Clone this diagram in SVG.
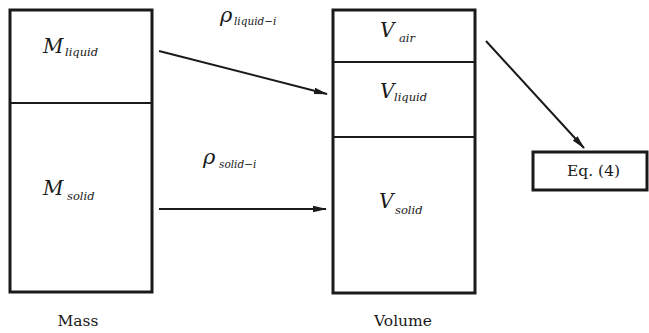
<svg xmlns="http://www.w3.org/2000/svg" width="649" height="333" viewBox="0 0 649 333">
<style>
.box{fill:none;stroke:#1a1a1a;stroke-width:3}
.div{stroke:#1a1a1a;stroke-width:2}
.conn{stroke:#1a1a1a;stroke-width:2;fill:none}
text{font-family:'DejaVu Serif',serif;fill:#1a1a1a}
.it{font-style:italic}
.big{font-size:20px}
.rho{font-size:21px}
.sub{font-size:11.5px}
.rs{font-size:10.5px}
.lbl{font-size:15.5px}
</style>
<defs>
<marker id="ah" markerWidth="14" markerHeight="8" refX="13" refY="4" orient="auto" markerUnits="userSpaceOnUse">
<path d="M0,0.8 L14,4 L0,7.2 Z" fill="#1a1a1a"/>
</marker>
</defs>
<rect width="649" height="333" fill="#fff"/>
<g id="mass">
<rect class="box" x="10" y="10" width="142" height="282"/>
<line class="div" x1="10" y1="103" x2="152" y2="103"/>
<text class="it big" x="43" y="53">M</text>
<text class="it sub" x="65" y="56">liquid</text>
<text class="it big" x="43" y="195">M</text>
<text class="it sub" x="67" y="200">solid</text>
<text class="lbl" x="78" y="326" text-anchor="middle">Mass</text>
</g>
<g id="volume">
<rect class="box" x="333" y="10" width="142" height="283"/>
<line class="div" x1="333" y1="62" x2="475" y2="62"/>
<line class="div" x1="333" y1="137" x2="475" y2="137"/>
<text class="it big" x="380" y="37">V</text>
<text class="it sub" x="399" y="42">air</text>
<text class="it big" x="380" y="98">V</text>
<text class="it sub" x="394" y="101">liquid</text>
<text class="it big" x="379" y="208">V</text>
<text class="it sub" x="395" y="214">solid</text>
<text class="lbl" x="403" y="326" text-anchor="middle">Volume</text>
</g>
<g id="eq4">
<rect class="box" x="533" y="152" width="114" height="38"/>
<text class="lbl" x="567" y="176">Eq. (4)</text>
</g>
<g id="connectors">
<line class="conn" x1="159" y1="51" x2="327" y2="94" marker-end="url(#ah)"/>
<line class="conn" x1="159" y1="209" x2="326" y2="209" marker-end="url(#ah)"/>
<line class="conn" x1="486" y1="41" x2="584" y2="148" marker-end="url(#ah)"/>
<text class="it rho" x="220" y="22">ρ</text>
<text class="it rs" x="234" y="25">liquid−i</text>
<text class="it rho" x="203" y="164">ρ</text>
<text class="it rs" x="219" y="168">solid−i</text>
</g>
</svg>
